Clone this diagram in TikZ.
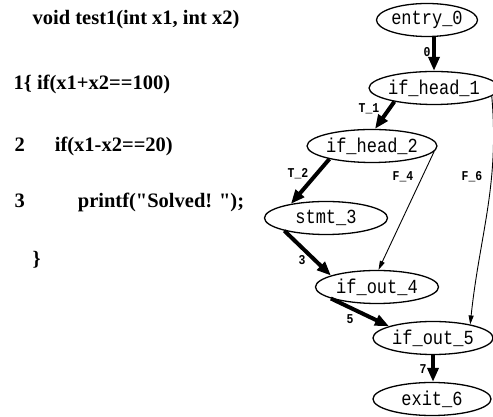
\documentclass[tikz,border=0pt]{standalone}
\usepackage{fontspec}
\setmainfont{Liberation Serif}
\newfontfamily\graphfont{Liberation Mono}[FakeStretch=0.85]
\usetikzlibrary{arrows.meta, shapes.geometric}
\tikzset{
  every picture/.style={line width=1.3pt},
  blk/.style={draw, ellipse, inner sep=0pt, minimum width=#1, minimum height=33pt, font=\graphfont\fontsize{20}{20}\selectfont},
  blk/.default=120pt,
  code/.style={anchor=base west, inner sep=0pt, font=\bfseries\fontsize{20.5}{20.5}\selectfont},
  hot/.style={-{Triangle[length=14pt, width=11pt]}, line width=4pt},
  cold/.style={-{Triangle[length=9pt, width=5pt]}, line width=0.9pt},
  elab/.style={inner sep=0pt, font=\graphfont\bfseries\fontsize{13.5}{13.5}\selectfont},
}

\begin{document}
\begin{tikzpicture}[x=1pt, y=1pt]
  \useasboundingbox (0,0) rectangle (493,417);
  \node[code] (sig) at (32,392) {void test1(int x1, int x2)};
  \node[code] (ln1) at (13,327) {1\{ if(x1+x2==100)};
  \node[code] (ln2) at (14,265) {2\hspace{30pt}if(x1-x2==20)};
  \node[code] (ln3) at (14,209) {3\hspace{53pt}printf(\textquotedbl Solved! \textquotedbl);};
  \node[code] (ln4) at (32,151) {\}};

  \node[blk=98pt] (entry_0) at (427,397) {entry\_0};
  \node[blk=114pt] (if_head_1) at (434,329) {if\_head\_1};
  \node[blk=121pt] (if_head_2) at (372,271) {if\_head\_2};
  \node[blk=123pt] (stmt_3) at (326,199) {stmt\_3};
  \node[blk=123pt] (if_out_4) at (377,130) {if\_out\_4};
  \node[blk=120pt] (if_out_5) at (433,79) {if\_out\_5};
  \node[blk=118pt] (exit_6) at (432,18) {exit\_6};

  \draw[hot] (entry_0.south -| if_head_1.north) -- (if_head_1.north);
  \draw[hot] (if_head_1.-161) -- (if_head_2.80);
  \draw[hot] (if_head_2.-163) -- (stmt_3.158);
  \draw[cold] (if_head_2.-5) -- (if_out_4.85);
  \draw[hot] (stmt_3.-163) -- (if_out_4.166);
  \draw[hot] (if_out_4.-166) -- (if_out_5.165);
  \draw[cold] (if_head_1.-8) to[out=-85, in=84] (if_out_5.20);
  \draw[hot] (if_out_5.south) -- (if_out_5.south |- exit_6.north);

  \node[elab] (l0) at (427,365) {0};
  \node[elab] (lT1) at (369,308) {T\_1};
  \node[elab] (lT2) at (298,243) {T\_2};
  \node[elab] (lF4) at (403,240) {F\_4};
  \node[elab] (lF6) at (472,240) {F\_6};
  \node[elab] (l3) at (302,157) {3};
  \node[elab] (l5) at (350,98) {5};
  \node[elab] (l7) at (423,48) {7};
\end{tikzpicture}
\end{document}
